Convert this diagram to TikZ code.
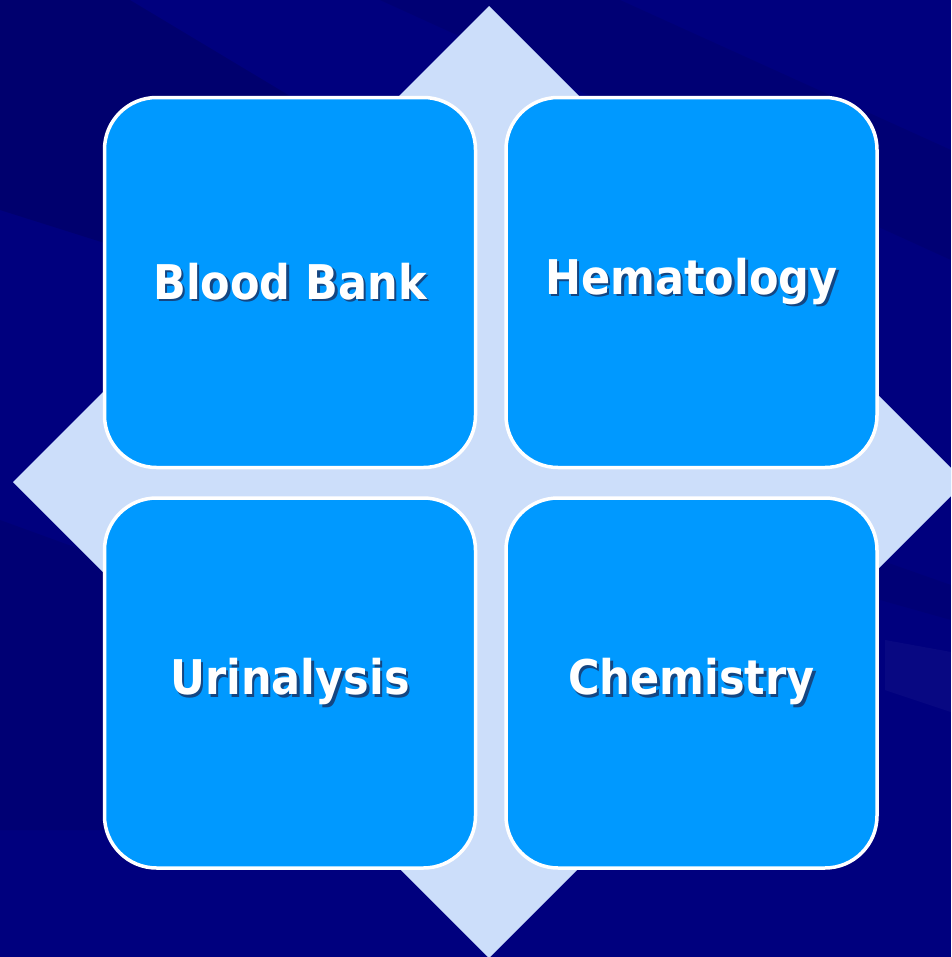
\documentclass[tikz,border=0pt]{standalone}
\usepackage{fontspec}
\usetikzlibrary{positioning}

\newfontfamily\cellfont[FakeStretch=0.9]{DejaVu Sans}

\definecolor{bgnavy}{RGB}{0,0,126}
\definecolor{diamondblue}{RGB}{204,222,250}
\definecolor{cellblue}{RGB}{0,153,255}
\definecolor{txtshadow}{RGB}{20,70,130}

% white text with a small dark drop shadow
\newcommand{\shadowed}[1]{\makebox[0pt][l]{\hspace{0.25mm}\raisebox{-0.25mm}{\textcolor{txtshadow}{#1}}}#1}

\begin{document}
\begin{tikzpicture}[x=0.1mm, y=-0.1mm,
		cell/.style = {shape=rectangle, rounded corners=5.2mm,
			draw=white, line width=0.35mm, fill=cellblue,
			minimum width=37.1mm, minimum height=37mm, inner sep=0pt,
			text=white, font={\cellfont\fontsize{13.6pt}{16pt}\selectfont\bfseries}},
		node distance=2.7mm]
	\useasboundingbox (0,0) rectangle (951,957);
	\clip (0,0) rectangle (951,957);

	% background with a few faint streaks
	\fill[bgnavy] (0,0) rectangle (951,957);
	\fill[black, opacity=.12] (0,0) -- (130,0) -- (380,150) -- (380,330) -- (0,210) -- cycle;
	\fill[black, opacity=.08] (380,0) -- (620,0) -- (951,150) -- (951,260) -- cycle;
	\fill[black, opacity=.08] (0,520) -- (110,560) -- (110,830) -- (0,830) -- cycle;
	\fill[white, opacity=.03] (885,640) -- (951,652) -- (951,712) -- (885,690) -- cycle;
	\fill[black, opacity=.06] (880,560) -- (951,585) -- (951,620) -- (880,600) -- cycle;

	% diamond behind the four cells
	\fill[diamondblue] (489,6) -- (965,482) -- (489,958) -- (13,482) -- cycle;

	\node[cell] (bank) at (290,282.5) {\shadowed{Blood Bank}};
	\node[cell, right=of bank] (hema) {\shadowed{Hematology}};
	\node[cell, below=of bank] (urin) {\shadowed{Urinalysis}};
	\node[cell, below=of hema] (chem) {\shadowed{Chemistry}};
\end{tikzpicture}
\end{document}
